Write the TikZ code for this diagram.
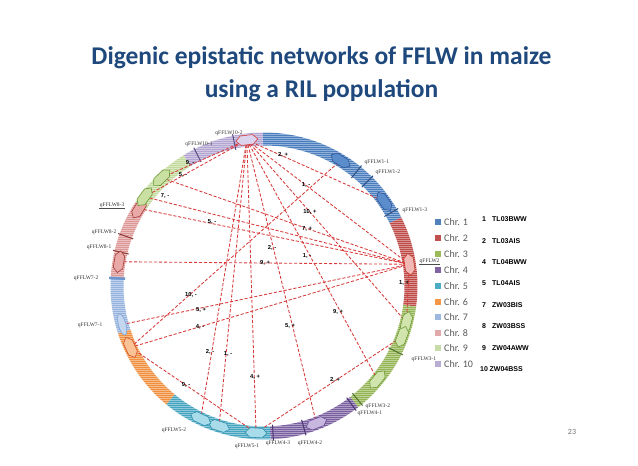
\documentclass[tikz,border=0pt]{standalone}
\usepackage{fontspec}
\setmainfont{Liberation Serif}
\newfontfamily\calfont{Carlito}
\newfontfamily\arfont{Liberation Sans}
\usetikzlibrary{shapes.symbols,shapes.geometric}
\pgfdeclarelayer{ringlayer}
\pgfdeclarelayer{linklayer}
\pgfsetlayers{ringlayer,linklayer,main}
\definecolor{titleblue}{HTML}{1F497D}
\definecolor{linkred}{HTML}{D83A3A}
\definecolor{cA}{HTML}{4A7EBF}
\definecolor{cB}{HTML}{BE4B48}
\definecolor{cC}{HTML}{93B553}
\definecolor{cD}{HTML}{7A5FA0}
\definecolor{cE}{HTML}{45A5C0}
\definecolor{cF}{HTML}{F0903F}
\definecolor{cG}{HTML}{95B3DE}
\definecolor{cH}{HTML}{DD9896}
\definecolor{cI}{HTML}{C2DA9C}
\definecolor{cJ}{HTML}{B3A6D3}
\definecolor{lA}{HTML}{4F81BD}
\definecolor{lB}{HTML}{C0504D}
\definecolor{lC}{HTML}{9BBB59}
\definecolor{lD}{HTML}{8064A2}
\definecolor{lE}{HTML}{4BACC6}
\definecolor{lF}{HTML}{F79646}
\definecolor{lG}{HTML}{9DB8E0}
\definecolor{lH}{HTML}{E0A8A8}
\definecolor{lI}{HTML}{C8DCA8}
\definecolor{lJ}{HTML}{B9ACD3}
\definecolor{tkJ}{HTML}{5A4A80}
\definecolor{tkA}{HTML}{2F4F80}
\definecolor{tkC}{HTML}{4F7030}
\definecolor{tkD}{HTML}{4A3570}
\definecolor{tkH}{HTML}{8B3A38}
\definecolor{tkG}{HTML}{6E95D0}
\definecolor{hdA}{HTML}{2F5597}
\definecolor{hfA}{HTML}{5B8CCB}
\definecolor{hdB}{HTML}{C0392B}
\definecolor{hfB}{HTML}{F2B8B6}
\definecolor{hdC}{HTML}{6E9A36}
\definecolor{hfC}{HTML}{D2E4AE}
\definecolor{hdD}{HTML}{6A4C93}
\definecolor{hfD}{HTML}{C8B8E0}
\definecolor{hdE}{HTML}{2F8FAA}
\definecolor{hfE}{HTML}{A9DCEB}
\definecolor{hdF}{HTML}{D9502A}
\definecolor{hfF}{HTML}{FAC396}
\definecolor{hdG}{HTML}{7FA3D6}
\definecolor{hfG}{HTML}{C5D6F0}
\definecolor{hdH}{HTML}{A33B38}
\definecolor{hfH}{HTML}{E8A9A7}
\definecolor{hfI}{HTML}{C9E0A2}
\definecolor{hfJ}{HTML}{DCD3EE}
\begin{document}
\begin{tikzpicture}[x=1pt,y=-1pt,
  link/.style={draw=linkred, line width=0.85pt, dash pattern=on 3.2pt off 1.8pt},
  lab/.style={font=\arfont\bfseries\fontsize{5.8}{6.5}\selectfont, inner sep=0.3pt},
  qname/.style={font=\fontsize{5.5}{6}\selectfont, text=black!80, inner sep=0.5pt},
  hexm/.style n args={3}{signal, signal to=east and west, draw=#1, fill=#2, line width=0.6pt, minimum width=22pt, minimum height=9.5pt, inner sep=0pt, rotate={90-(#3)}},
  tickm/.style={line width=1pt},
  legtxt/.style={font=\calfont\fontsize{10}{12}\selectfont, text=black!65, anchor=west, inner sep=0pt},
  trait/.style={font=\arfont\bfseries\fontsize{7}{8}\selectfont, anchor=west, inner sep=0pt},
  legsq/.style={minimum size=5.5pt, inner sep=0pt}
]
\begin{pgfonlayer}{ringlayer}
\fill[white] (0,0) rectangle (638,466);
\end{pgfonlayer}
\useasboundingbox (0,0) rectangle (638,466);

% title
\node[font=\calfont\bfseries\fontsize{25.5}{30}\selectfont, text=titleblue, anchor=base] (t1) at (321.5,64) {Digenic epistatic networks of FFLW in maize};
\node[font=\calfont\bfseries\fontsize{25.5}{30}\selectfont, text=titleblue, anchor=base] (t2) at (321.5,97) {using a RIL population};

\begin{scope}[shift={(264,286)}]
  \begin{pgfonlayer}{ringlayer}
  % ring
  \foreach \a/\b/\c in {-90.4/-26.6/cA, -26.6/7.7/cB, 7.7/52.2/cC, 52.2/87.6/cD, 87.6/129.5/cE, 129.5/162/cF, 162/183/cG, 183/213.2/cH, 213.2/238.5/cI, 238.5/269.6/cJ}
    \fill[\c] (\a:153.5) arc[start angle=\a, end angle=\b, radius=153.5] -- (\b:140.5) arc[start angle=\b, end angle=\a, radius=140.5] -- cycle;
  \begin{scope}
    \clip (0,0) circle[radius=154];
    \foreach \k in {-154,-152,...,154}
      \draw[white, opacity=0.4, line width=0.6pt] (-155,\k) -- (155,\k);
  \end{scope}
  % ticks
  \foreach \p/\c in {258.3/tkJ, 243.1/tkJ, -51/tkA, -45.3/tkA, -30/tkA, 26.4/tkC, 50.5/tkC, 53.5/tkD, 74.3/tkD, 86.5/tkD, 193.3/tkH, 199.8/tkH}
    \draw[tickm, draw=\c] (\p:139) -- (\p:155);
  \draw[line width=2.5pt, draw=tkG] (183:139) -- (183:155);
  \end{pgfonlayer}
  % QTL markers
  \node[hexm={linkred}{hfJ}{-96.7}] (q10b) at (-96.7:147) {};
  \node[hexm={hdA}{hfA}{-58.6}] (q11) at (-58.6:147) {};
  \node[hexm={hdA}{hfA}{-35.1}] (q13) at (-35.1:147) {};
  \node[hexm={hdB}{hfB}{-8.5}] (q2) at (-8.5:147) {};
  \node[hexm={hdC}{hfC}{14.3}] (q3a) at (14.3:147) {};
  \node[hexm={hdC}{hfC}{20.2}] (q3b) at (20.2:147) {};
  \node[hexm={hdC}{hfC}{39.5}] (q3c) at (39.5:147) {};
  \node[hexm={hdD}{hfD}{69.1}] (q4) at (69.1:147) {};
  \node[hexm={hdE}{hfE}{93.1}] (q5a) at (93.1:147) {};
  \node[hexm={hdE}{hfE}{107.8}] (q5b) at (107.8:147) {};
  \node[hexm={hdE}{hfE}{115.5}] (q5c) at (115.5:147) {};
  \node[hexm={hdF}{hfF}{155.3}] (q6) at (155.3:147) {};
  \node[ellipse, draw=hdG, fill=hfG, line width=0.6pt, minimum width=22pt, minimum height=7.5pt, inner sep=0pt, rotate={90-164.8}] (q7) at (164.8:147) {};
  \node[hexm={hdH}{hfH}{189.5}] (q8a) at (189.5:147) {};
  \node[hexm={hdH}{hfH}{211.8}] (q8c) at (211.8:147) {};
  \node[hexm={hdC}{hfI}{216.8}] (q9a) at (216.8:149) {};
  \node[hexm={hdC}{hfI}{226.6}] (q9b) at (226.6:149) {};
\end{scope}

% QTL names
\node[qname] (n102) at (229,133) {qFFLW10-2};
\node[qname] (n101) at (199,144) {qFFLW10-1};
\node[qname, anchor=west] (n11) at (364,162) {qFFLW1-1};
\node[qname, anchor=west] (n12) at (375,172) {qFFLW1-2};
\node[qname, anchor=west] (n13) at (402,210) {qFFLW1-3};
\node[qname, anchor=west] (n2) at (419,261) {qFFLW2};
\draw[black!70, line width=0.4pt] (n2.south west) -- (n2.south east);
\node[qname, anchor=west] (n31) at (411,359) {qFFLW3-1};
\node[qname, anchor=west] (n32) at (365,406) {qFFLW3-2};
\node[qname, anchor=west] (n41) at (357,413) {qFFLW4-1};
\node[qname] (n42) at (310,443) {qFFLW4-2};
\node[qname] (n43) at (278,443) {qFFLW4-3};
\node[qname] (n51) at (247,446) {qFFLW5-1};
\node[qname] (n52) at (174,430) {qFFLW5-2};
\node[qname, anchor=east] (n71) at (103,325) {qFFLW7-1};
\node[qname, anchor=east] (n72) at (99,278) {qFFLW7-2};
\node[qname, anchor=east] (n81) at (112,247) {qFFLW8-1};
\node[qname, anchor=east] (n82) at (117,232) {qFFLW8-2};
\node[qname, anchor=east] (n83) at (125,205) {qFFLW8-3};
\draw[black!70, line width=0.4pt] (n83.south west) -- (n83.south east);

% links
\begin{pgfonlayer}{linklayer}
\draw[link] (q10b.center) -- (q13.center);
\draw[link] (q10b.center) -- (q2.center);
\draw[link] (q10b.center) -- (q3a.center);
\draw[link] (q10b.center) -- (q3c.center);
\draw[link] (q10b.center) -- (q4.center);
\draw[link] (q10b.center) -- (q5a.center);
\draw[link] (q10b.center) -- (q5b.center);
\draw[link] (q10b.center) -- (q5c.center);
\draw[link] (q10b.center) -- (q9b.center);
\draw[link] (q10b.center) -- (q9a.center);
\draw[link] (q9a.center) -- (q2.center);
\draw[link] (q9b.center) -- (q2.center);
\draw[link] (q8c.center) -- (q2.center);
\draw[link] (q8a.center) -- (q2.center);
\draw[link] (q7.center) -- (q2.center);
\draw[link] (q6.center) -- (q2.center);
\draw[link] (q6.center) -- (q11.center);
\draw[link] (q6.center) -- (q5a.center);
\draw[link] (q5a.center) -- (q3b.center);
\draw[link] (q2.center) -- (q3a.center);
\end{pgfonlayer}

% link labels
\node[lab] (l1) at (283,155) {2, +};
\node[lab] (l2) at (306,185) {1, -};
\node[lab] (l3) at (310,212) {10, +};
\node[lab] (l4) at (307,256) {1, -};
\node[lab] (l5) at (338,312) {9, +};
\node[lab] (l6) at (272,248) {2, -};
\node[lab] (l7) at (290,326) {5, +};
\node[lab] (l8) at (255,377) {4, +};
\node[lab] (l9) at (228,354) {1, -};
\node[lab] (l10) at (210,352) {2, -};
\node[lab] (l11) at (190,163) {9, -};
\node[lab] (l12) at (183,175) {5, -};
\node[lab] (l13) at (165,196) {7, -};
\node[lab] (l14) at (307,229) {7, +};
\node[lab] (l15) at (212,222) {5, -};
\node[lab] (l16) at (265,263) {9, +};
\node[lab] (l17) at (201,310) {5, +};
\node[lab] (l18) at (200,327) {4, -};
\node[lab] (l19) at (191,295) {10, -};
\node[lab] (l20) at (186,385) {9, -};
\node[lab] (l21) at (335,380) {2, +};
\node[lab] (l22) at (404,283) {1, +};

% legend
\foreach \i/\y/\c in {1/222/lA, 2/238/lB, 3/254/lC, 4/270/lD, 5/286/lE, 6/302/lF, 7/317/lG, 8/333/lH, 9/348/lI, 10/364/lJ}{
  \node[legsq, fill=\c] (sq\i) at (438,\y) {};
  \node[legtxt] (lt\i) at (444,\y) {Chr. \i};
}
% traits
\foreach \n/\t/\y/\xn/\xx in {1/TL03BWW/219/482/492, 2/TL03AIS/241/482/492, 4/TL04BWW/262/482/492, 5/TL04AIS/283/482/492, 7/ZW03BIS/305/482/492, 8/ZW03BSS/326/482/492, 9/ZW04AWW/348/482/492, 10/ZW04BSS/369/480/489.5}{
  \node[trait] (tn\n) at (\xn,\y) {\n};
  \node[trait] (tt\n) at (\xx,\y) {\t};
}
\node[font=\calfont\fontsize{8}{9}\selectfont, text=black!55] (pg) at (572,432) {23};
\end{tikzpicture}
\end{document}
